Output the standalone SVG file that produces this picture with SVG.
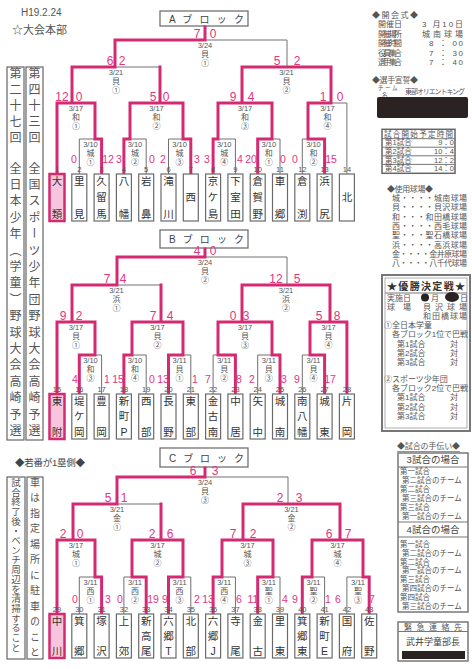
<svg xmlns="http://www.w3.org/2000/svg" width="472" height="669" viewBox="0 0 472 669">
<style>
.g{fill:none;stroke:#707070;stroke-width:1}
.r{fill:none;stroke:#d42a72;stroke-width:3;stroke-linecap:square}
.tb{fill:#fff;stroke:#6a6a6a;stroke-width:1.2}
.tw{fill:#f7c6de;stroke:#d42a72;stroke-width:2.5}
.nm{font-family:"Liberation Sans","Noto Sans CJK JP",sans-serif;font-size:10.5px;fill:#333;text-anchor:middle}
.no{font-family:"Liberation Sans",sans-serif;font-size:7.5px;fill:#555;text-anchor:middle}
.d{font-family:"Liberation Sans",sans-serif;font-size:7.5px;fill:#555;text-anchor:middle}
.v{font-family:"Liberation Sans","Noto Sans CJK JP",sans-serif;font-size:8px;fill:#555;text-anchor:middle}
.s{font-family:"Liberation Sans",sans-serif;font-size:12px;fill:#e2367f;text-anchor:middle}
.t{font-family:"Liberation Sans",sans-serif;font-size:10.5px;fill:#e2367f;text-anchor:middle}
.p{font-family:"Liberation Sans","Noto Sans CJK JP",sans-serif;font-size:8px;fill:#555}
.q{font-family:"Liberation Sans","Noto Sans CJK JP",sans-serif;font-size:7.5px;fill:#555}
.h{font-family:"Liberation Sans","Noto Sans CJK JP",sans-serif;font-size:9.5px;fill:#444}
.bx{fill:#fff;stroke:#666;stroke-width:1.2}
.vt{font-family:"Noto Sans CJK JP",sans-serif;font-size:12px;fill:#555;writing-mode:vertical-rl}
.bt{font-family:"Liberation Sans","Noto Sans CJK JP",sans-serif;font-size:10px;fill:#444}
.blk{fill:#2b2222}
</style>
<rect width="472" height="669" fill="#fff"/>

<g id="header">
<text x="21" y="16" style="font-family:'Liberation Sans',sans-serif;font-size:10px;fill:#555">H19.2.24</text>
<text x="12" y="34" style="font-family:'Liberation Sans','Noto Sans CJK JP',sans-serif;font-size:11px;fill:#555">☆大会本部</text>
</g>

<g id="title-columns">
<rect class="bx" x="7" y="67" width="17" height="373"/>
<rect class="bx" x="26" y="67" width="17" height="373"/>
<text class="vt" x="15.5" y="67" style="letter-spacing:4px">第二十七回</text>
<text class="vt" x="15.5" y="162" style="letter-spacing:4.4px">全日本少年（学童）野球大会高崎予選</text>
<text class="vt" x="34.5" y="67" style="letter-spacing:4px">第四十三回</text>
<text class="vt" x="34.5" y="162" style="letter-spacing:4.4px">全国スポーツ少年団野球大会高崎予選</text>
</g>

<g id="notes-columns">
<text class="h" x="15" y="466" textLength="70">◆若番が1塁側◆</text>
<rect class="bx" x="7" y="477" width="18" height="182"/>
<rect class="bx" x="27" y="477" width="16" height="182"/>
<text class="vt" x="16" y="477.5" style="font-size:9.5px;letter-spacing:0.2px">試合終了後・ベンチ周辺を清掃すること</text>
<text class="vt" x="35" y="477" style="font-size:10px;letter-spacing:5.5px">車は指定場所に駐車のこと</text>
</g>

<g id="block-A-title"><rect class="bx" x="160" y="11" width="88" height="15"/><text class="bt" x="169" y="22.5" textLength="75">A ブ ロ ッ ク</text></g>
<g id="block-B-title"><rect class="bx" x="160" y="230" width="88" height="18"/><text class="bt" x="169" y="243" textLength="75">B ブ ロ ッ ク</text></g>
<g id="block-C-title"><rect class="bx" x="160" y="448" width="88" height="19"/><text class="bt" x="169" y="461.5" textLength="75">C ブ ロ ッ ク</text></g>

<g id="connectors">
<path class="g" d="M205,26V40M115,67V40H287V67M72,103V67H160V103M242,103V67H331V103M57,174V103H95V139M130,139V103H183V139M218,139V103H272V139M308,139V103H346.9V174M79.3,174V139H101.6V174M123.9,174V139H146.2V174M168.5,174V139H190.8V174M213.1,174V139H235.4V174M257.7,174V139H280V174M302.3,174V139H324.6V174"/>
<path class="g" d="M205,248V257M117,285V257H287V285M72,322V285H161V322M242,322V285H330V322M57,394V322H95V355M132,355V322H183V355M218,355V322H272V355M310,355V322H346.9V394M79.3,394V355H101.6V394M123.9,394V355H146.2V394M168.5,394V355H190.8V394M213.1,394V355H235.4V394M257.7,394V355H280V394M302.3,394V355H324.6V394"/>
<path class="g" d="M205,467V477M117,504V477H288V504M73,540V504H161V540M243,540V504H340V540M57,614V540H95V577M132,577V540H183V577M222,577V540H273V577M312,577V540H363V577M79.3,614V577H101.6V614M123.9,614V577H146.2V614M168.5,614V577H190.8V614M213.1,614V577H235.4V614M257.7,614V577H280V614M302.3,614V577H324.6V614M346.9,614V577H369.2V614"/>
<path class="r" d="M205,27V40M115,67V40H205M72,103V67H115M160,103V67M242,103V67H331V103M57,173V103H95V139M130,139V103H183V139M218,139V103H272V139M308,139V103H331M101.6,173V139H95M123.9,173V139H130M190.8,173V139H183M213.1,173V139H218M257.7,173V139H272M324.6,173V139H308"/>
<path class="r" d="M205,249V257M117,285V257H205M72,322V285H117M161,322V285M242,322V285H330V322M57,393V322H95V355M132,355V322H183V355M218,355V322H272V355M310,355V322H346.9V393M79.3,393V355H95M123.9,393V355H132M168.5,393V355H183M235.4,393V355H218M280,393V355H272M324.6,393V355H310"/>
<path class="r" d="M205,468V477M117,504V477H205M73,540V504H117M161,540V504M243,540V504H340V540M57,613V540H95V577M132,577V540H183V577M222,577V540H273V577M312,577V540H363V577M101.6,613V577H95M146.2,613V577H132M168.5,613V577H183M213.1,613V577H222M257.7,613V577H273M302.3,613V577H312M369.2,613V577H363"/>
</g>

<g id="A-F"><text class="d" x="205" y="47.5">3/24</text><text class="v" x="205" y="56.5">貝</text><text class="v" x="205" y="65.5">①</text><text class="s" x="197" y="38">7</text><text class="s" x="213" y="38">0</text></g>
<g id="A-SL"><text class="d" x="116" y="74.5">3/21</text><text class="v" x="116" y="83.5">貝</text><text class="v" x="116" y="92.5">①</text><text class="s" x="110" y="65">6</text><text class="s" x="122" y="65">2</text></g>
<g id="A-SR"><text class="d" x="286.5" y="74.5">3/21</text><text class="v" x="286.5" y="83.5">貝</text><text class="v" x="286.5" y="92.5">②</text><text class="s" x="277" y="65">5</text><text class="s" x="297" y="65">2</text></g>
<g id="A-Q1"><text class="d" x="76" y="110.5">3/17</text><text class="v" x="76" y="119.5">和</text><text class="v" x="76" y="128.5">①</text><text class="s" x="62" y="101">12</text><text class="s" x="79" y="101">0</text></g>
<g id="A-Q2"><text class="d" x="156.5" y="110.5">3/17</text><text class="v" x="156.5" y="119.5">和</text><text class="v" x="156.5" y="128.5">②</text><text class="s" x="153" y="101">5</text><text class="s" x="166" y="101">0</text></g>
<g id="A-Q3"><text class="d" x="245" y="110.5">3/17</text><text class="v" x="245" y="119.5">和</text><text class="v" x="245" y="128.5">③</text><text class="s" x="233" y="101">9</text><text class="s" x="251" y="101">4</text></g>
<g id="A-Q4"><text class="d" x="327.5" y="110.5">3/17</text><text class="v" x="327.5" y="119.5">和</text><text class="v" x="327.5" y="128.5">④</text><text class="s" x="323" y="101">1</text><text class="s" x="340" y="101">0</text></g>
<g id="A-R1-1"><text class="d" x="90.5" y="146.5">3/10</text><text class="v" x="90.5" y="155.5">城</text><text class="v" x="90.5" y="164.5">①</text><text class="t" x="74" y="162.5">0</text><text class="t" x="108" y="162.5">12</text></g>
<g id="A-R1-2"><text class="d" x="135" y="146.5">3/10</text><text class="v" x="135" y="155.5">城</text><text class="v" x="135" y="164.5">②</text><text class="t" x="119" y="162.5">3</text><text class="t" x="152" y="162.5">0</text></g>
<g id="A-R1-3"><text class="d" x="179.6" y="146.5">3/10</text><text class="v" x="179.6" y="155.5">城</text><text class="v" x="179.6" y="164.5">③</text><text class="t" x="163" y="162.5">2</text><text class="t" x="197" y="162.5">3</text></g>
<g id="A-R1-4"><text class="d" x="224.2" y="146.5">3/10</text><text class="v" x="224.2" y="155.5">城</text><text class="v" x="224.2" y="164.5">④</text><text class="t" x="207" y="162.5">3</text><text class="t" x="240" y="162.5">4</text></g>
<g id="A-R1-5"><text class="d" x="268.8" y="146.5">3/10</text><text class="v" x="268.8" y="155.5">和</text><text class="v" x="268.8" y="164.5">①</text><text class="t" x="251" y="162.5">20</text><text class="t" x="283" y="162.5">0</text></g>
<g id="A-R1-6"><text class="d" x="313.5" y="146.5">3/10</text><text class="v" x="313.5" y="155.5">和</text><text class="v" x="313.5" y="164.5">②</text><text class="t" x="295" y="162.5">0</text><text class="t" x="331" y="162.5">15</text></g>

<g id="B-F"><text class="d" x="205" y="264.5">3/24</text><text class="v" x="205" y="273.5">貝</text><text class="v" x="205" y="282.5">②</text><text class="s" x="197" y="255">4</text><text class="s" x="213" y="255">0</text></g>
<g id="B-SL"><text class="d" x="116.5" y="292.5">3/21</text><text class="v" x="116.5" y="301.5">浜</text><text class="v" x="116.5" y="310.5">①</text><text class="s" x="107" y="283">7</text><text class="s" x="123" y="283">4</text></g>
<g id="B-SR"><text class="d" x="286" y="292.5">3/21</text><text class="v" x="286" y="301.5">浜</text><text class="v" x="286" y="310.5">②</text><text class="s" x="276" y="283">12</text><text class="s" x="297" y="283">5</text></g>
<g id="B-Q1"><text class="d" x="76" y="329.5">3/17</text><text class="v" x="76" y="338.5">貝</text><text class="v" x="76" y="347.5">①</text><text class="s" x="63" y="320">9</text><text class="s" x="79" y="320">2</text></g>
<g id="B-Q2"><text class="d" x="157.5" y="329.5">3/17</text><text class="v" x="157.5" y="338.5">貝</text><text class="v" x="157.5" y="347.5">②</text><text class="s" x="153" y="320">7</text><text class="s" x="170" y="320">4</text></g>
<g id="B-Q3"><text class="d" x="245" y="329.5">3/17</text><text class="v" x="245" y="338.5">貝</text><text class="v" x="245" y="347.5">③</text><text class="s" x="233" y="320">0</text><text class="s" x="246" y="320">3</text></g>
<g id="B-Q4"><text class="d" x="328.5" y="329.5">3/17</text><text class="v" x="328.5" y="338.5">貝</text><text class="v" x="328.5" y="347.5">④</text><text class="s" x="319" y="320">5</text><text class="s" x="337" y="320">8</text></g>
<g id="B-R1-1"><text class="d" x="90.5" y="362.5">3/10</text><text class="v" x="90.5" y="371.5">和</text><text class="v" x="90.5" y="380.5">③</text><text class="t" x="75" y="382.5">4</text><text class="t" x="107" y="382.5">1</text></g>
<g id="B-R1-2"><text class="d" x="135" y="362.5">3/10</text><text class="v" x="135" y="371.5">和</text><text class="v" x="135" y="380.5">④</text><text class="t" x="118" y="382.5">15</text><text class="t" x="152" y="382.5">0</text></g>
<g id="B-R1-3"><text class="d" x="179.6" y="362.5">3/11</text><text class="v" x="179.6" y="371.5">貝</text><text class="v" x="179.6" y="380.5">①</text><text class="t" x="163" y="382.5">13</text><text class="t" x="195" y="382.5">1</text></g>
<g id="B-R1-4"><text class="d" x="224.2" y="362.5">3/11</text><text class="v" x="224.2" y="371.5">貝</text><text class="v" x="224.2" y="380.5">②</text><text class="t" x="208" y="382.5">7</text><text class="t" x="239" y="382.5">8</text></g>
<g id="B-R1-5"><text class="d" x="268.8" y="362.5">3/11</text><text class="v" x="268.8" y="371.5">貝</text><text class="v" x="268.8" y="380.5">③</text><text class="t" x="252" y="382.5">2</text><text class="t" x="284" y="382.5">3</text></g>
<g id="B-R1-6"><text class="d" x="313.5" y="362.5">3/11</text><text class="v" x="313.5" y="371.5">貝</text><text class="v" x="313.5" y="380.5">④</text><text class="t" x="297" y="382.5">9</text><text class="t" x="330" y="382.5">17</text></g>

<g id="C-F"><text class="d" x="205" y="484.5">3/24</text><text class="v" x="205" y="493.5">貝</text><text class="v" x="205" y="502.5">③</text><text class="s" x="193" y="475">6</text><text class="s" x="215" y="475">3</text></g>
<g id="C-SL"><text class="d" x="117" y="511.5">3/21</text><text class="v" x="117" y="520.5">金</text><text class="v" x="117" y="529.5">①</text><text class="s" x="108" y="502">5</text><text class="s" x="124" y="502">1</text></g>
<g id="C-SR"><text class="d" x="291.5" y="511.5">3/21</text><text class="v" x="291.5" y="520.5">金</text><text class="v" x="291.5" y="529.5">②</text><text class="s" x="280" y="502">2</text><text class="s" x="299" y="502">3</text></g>
<g id="C-Q1"><text class="d" x="76" y="547.5">3/17</text><text class="v" x="76" y="556.5">城</text><text class="v" x="76" y="565.5">①</text><text class="s" x="63" y="538">2</text><text class="s" x="80" y="538">0</text></g>
<g id="C-Q2"><text class="d" x="157.5" y="547.5">3/17</text><text class="v" x="157.5" y="556.5">城</text><text class="v" x="157.5" y="565.5">②</text><text class="s" x="152" y="538">2</text><text class="s" x="170" y="538">6</text></g>
<g id="C-Q3"><text class="d" x="247.5" y="547.5">3/17</text><text class="v" x="247.5" y="556.5">城</text><text class="v" x="247.5" y="565.5">③</text><text class="s" x="233" y="538">7</text><text class="s" x="253" y="538">2</text></g>
<g id="C-Q4"><text class="d" x="337.5" y="547.5">3/17</text><text class="v" x="337.5" y="556.5">城</text><text class="v" x="337.5" y="565.5">④</text><text class="s" x="329" y="538">6</text><text class="s" x="348" y="538">7</text></g>
<g id="C-R1-1"><text class="d" x="90.5" y="584.5">3/11</text><text class="v" x="90.5" y="593.5">西</text><text class="v" x="90.5" y="602.5">①</text><text class="t" x="75" y="602.5">0</text><text class="t" x="108" y="602.5">3</text></g>
<g id="C-R1-2"><text class="d" x="135" y="584.5">3/11</text><text class="v" x="135" y="593.5">西</text><text class="v" x="135" y="602.5">②</text><text class="t" x="120" y="602.5">0</text><text class="t" x="153" y="602.5">19</text></g>
<g id="C-R1-3"><text class="d" x="179.6" y="584.5">3/11</text><text class="v" x="179.6" y="593.5">西</text><text class="v" x="179.6" y="602.5">③</text><text class="t" x="165" y="602.5">9</text><text class="t" x="197" y="602.5">2</text></g>
<g id="C-R1-4"><text class="d" x="224.2" y="584.5">3/11</text><text class="v" x="224.2" y="593.5">西</text><text class="v" x="224.2" y="602.5">④</text><text class="t" x="208" y="602.5">13</text><text class="t" x="239" y="602.5">6</text></g>
<g id="C-R1-5"><text class="d" x="268.8" y="584.5">3/11</text><text class="v" x="268.8" y="593.5">聖</text><text class="v" x="268.8" y="602.5">①</text><text class="t" x="253" y="602.5">11</text><text class="t" x="285" y="602.5">4</text></g>
<g id="C-R1-6"><text class="d" x="313.5" y="584.5">3/11</text><text class="v" x="313.5" y="593.5">聖</text><text class="v" x="313.5" y="602.5">②</text><text class="t" x="295" y="602.5">9</text><text class="t" x="328" y="602.5">1</text></g>
<g id="C-R1-7"><text class="d" x="358" y="584.5">3/11</text><text class="v" x="358" y="593.5">聖</text><text class="v" x="358" y="602.5">③</text><text class="t" x="338" y="602.5">6</text><text class="t" x="372" y="602.5">7</text></g>

<g id="team-1"><rect class="tw" x="49.5" y="174" width="15" height="47"/><text class="no" x="57" y="171.5">1</text><text class="nm" x="57" y="184.7">大</text><text class="nm" x="57" y="217.7">類</text></g>
<g id="team-2"><rect class="tb" x="71.8" y="174" width="15" height="47"/><text class="no" x="79.3" y="171.5">2</text><text class="nm" x="79.3" y="184.7">里</text><text class="nm" x="79.3" y="217.7">見</text></g>
<g id="team-3"><rect class="tb" x="94.1" y="174" width="15" height="47"/><text class="no" x="101.6" y="171.5">3</text><text class="nm" x="101.6" y="184.7">久</text><text class="nm" x="101.6" y="201.2">留</text><text class="nm" x="101.6" y="217.7">馬</text></g>
<g id="team-4"><rect class="tb" x="116.4" y="174" width="15" height="47"/><text class="no" x="123.9" y="171.5">4</text><text class="nm" x="123.9" y="184.7">八</text><text class="nm" x="123.9" y="217.7">幡</text></g>
<g id="team-5"><rect class="tb" x="138.7" y="174" width="15" height="47"/><text class="no" x="146.2" y="171.5">5</text><text class="nm" x="146.2" y="184.7">岩</text><text class="nm" x="146.2" y="217.7">鼻</text></g>
<g id="team-6"><rect class="tb" x="161" y="174" width="15" height="47"/><text class="no" x="168.5" y="171.5">6</text><text class="nm" x="168.5" y="184.7">滝</text><text class="nm" x="168.5" y="217.7">川</text></g>
<g id="team-7"><rect class="tb" x="183.3" y="174" width="15" height="47"/><text class="no" x="190.8" y="171.5">7</text><text class="nm" x="190.8" y="201.2">西</text></g>
<g id="team-8"><rect class="tb" x="205.6" y="174" width="15" height="47"/><text class="no" x="213.1" y="171.5">8</text><text class="nm" x="213.1" y="184.7">京</text><text class="nm" x="213.1" y="201.2">ケ</text><text class="nm" x="213.1" y="217.7">島</text></g>
<g id="team-9"><rect class="tb" x="227.9" y="174" width="15" height="47"/><text class="no" x="235.4" y="171.5">9</text><text class="nm" x="235.4" y="184.7">下</text><text class="nm" x="235.4" y="201.2">室</text><text class="nm" x="235.4" y="217.7">田</text></g>
<g id="team-10"><rect class="tb" x="250.2" y="174" width="15" height="47"/><text class="no" x="257.7" y="171.5">10</text><text class="nm" x="257.7" y="184.7">倉</text><text class="nm" x="257.7" y="201.2">賀</text><text class="nm" x="257.7" y="217.7">野</text></g>
<g id="team-11"><rect class="tb" x="272.5" y="174" width="15" height="47"/><text class="no" x="280" y="171.5">11</text><text class="nm" x="280" y="184.7">車</text><text class="nm" x="280" y="217.7">郷</text></g>
<g id="team-12"><rect class="tb" x="294.8" y="174" width="15" height="47"/><text class="no" x="302.3" y="171.5">12</text><text class="nm" x="302.3" y="184.7">倉</text><text class="nm" x="302.3" y="217.7">渕</text></g>
<g id="team-13"><rect class="tb" x="317.1" y="174" width="15" height="47"/><text class="no" x="324.6" y="171.5">13</text><text class="nm" x="324.6" y="184.7">浜</text><text class="nm" x="324.6" y="217.7">尻</text></g>
<g id="team-14"><rect class="tb" x="339.4" y="174" width="15" height="47"/><text class="no" x="346.9" y="171.5">14</text><text class="nm" x="346.9" y="201.2">北</text></g>

<g id="team-15"><rect class="tw" x="49.5" y="394" width="15" height="45"/><text class="no" x="57" y="391.5">15</text><text class="nm" x="57" y="404.7">東</text><text class="nm" x="57" y="435.7">附</text></g>
<g id="team-16"><rect class="tb" x="71.8" y="394" width="15" height="45"/><text class="no" x="79.3" y="391.5">16</text><text class="nm" x="79.3" y="404.7">堤</text><text class="nm" x="79.3" y="420.2">ケ</text><text class="nm" x="79.3" y="435.7">岡</text></g>
<g id="team-17"><rect class="tb" x="94.1" y="394" width="15" height="45"/><text class="no" x="101.6" y="391.5">17</text><text class="nm" x="101.6" y="404.7">豊</text><text class="nm" x="101.6" y="435.7">岡</text></g>
<g id="team-18"><rect class="tb" x="116.4" y="394" width="15" height="45"/><text class="no" x="123.9" y="391.5">18</text><text class="nm" x="123.9" y="404.7">新</text><text class="nm" x="123.9" y="420.2">町</text><text class="nm" x="123.9" y="435.7">P</text></g>
<g id="team-19"><rect class="tb" x="138.7" y="394" width="15" height="45"/><text class="no" x="146.2" y="391.5">19</text><text class="nm" x="146.2" y="404.7">西</text><text class="nm" x="146.2" y="435.7">部</text></g>
<g id="team-20"><rect class="tb" x="161" y="394" width="15" height="45"/><text class="no" x="168.5" y="391.5">20</text><text class="nm" x="168.5" y="404.7">長</text><text class="nm" x="168.5" y="435.7">野</text></g>
<g id="team-21"><rect class="tb" x="183.3" y="394" width="15" height="45"/><text class="no" x="190.8" y="391.5">21</text><text class="nm" x="190.8" y="404.7">東</text><text class="nm" x="190.8" y="435.7">部</text></g>
<g id="team-22"><rect class="tb" x="205.6" y="394" width="15" height="45"/><text class="no" x="213.1" y="391.5">22</text><text class="nm" x="213.1" y="404.7">金</text><text class="nm" x="213.1" y="420.2">古</text><text class="nm" x="213.1" y="435.7">南</text></g>
<g id="team-23"><rect class="tb" x="227.9" y="394" width="15" height="45"/><text class="no" x="235.4" y="391.5">23</text><text class="nm" x="235.4" y="404.7">中</text><text class="nm" x="235.4" y="435.7">居</text></g>
<g id="team-24"><rect class="tb" x="250.2" y="394" width="15" height="45"/><text class="no" x="257.7" y="391.5">24</text><text class="nm" x="257.7" y="404.7">矢</text><text class="nm" x="257.7" y="435.7">中</text></g>
<g id="team-25"><rect class="tb" x="272.5" y="394" width="15" height="45"/><text class="no" x="280" y="391.5">25</text><text class="nm" x="280" y="404.7">城</text><text class="nm" x="280" y="435.7">南</text></g>
<g id="team-26"><rect class="tb" x="294.8" y="394" width="15" height="45"/><text class="no" x="302.3" y="391.5">26</text><text class="nm" x="302.3" y="404.7">南</text><text class="nm" x="302.3" y="420.2">八</text><text class="nm" x="302.3" y="435.7">幡</text></g>
<g id="team-27"><rect class="tb" x="317.1" y="394" width="15" height="45"/><text class="no" x="324.6" y="391.5">27</text><text class="nm" x="324.6" y="404.7">城</text><text class="nm" x="324.6" y="435.7">東</text></g>
<g id="team-28"><rect class="tb" x="339.4" y="394" width="15" height="45"/><text class="no" x="346.9" y="391.5">28</text><text class="nm" x="346.9" y="404.7">片</text><text class="nm" x="346.9" y="435.7">岡</text></g>

<g id="team-29"><rect class="tw" x="49.5" y="614" width="15" height="44"/><text class="no" x="57" y="611.5">29</text><text class="nm" x="57" y="624.7">中</text><text class="nm" x="57" y="654.7">川</text></g>
<g id="team-30"><rect class="tb" x="71.8" y="614" width="15" height="44"/><text class="no" x="79.3" y="611.5">30</text><text class="nm" x="79.3" y="624.7">箕</text><text class="nm" x="79.3" y="654.7">郷</text></g>
<g id="team-31"><rect class="tb" x="94.1" y="614" width="15" height="44"/><text class="no" x="101.6" y="611.5">31</text><text class="nm" x="101.6" y="624.7">塚</text><text class="nm" x="101.6" y="654.7">沢</text></g>
<g id="team-32"><rect class="tb" x="116.4" y="614" width="15" height="44"/><text class="no" x="123.9" y="611.5">32</text><text class="nm" x="123.9" y="624.7">上</text><text class="nm" x="123.9" y="654.7">郊</text></g>
<g id="team-33"><rect class="tb" x="138.7" y="614" width="15" height="44"/><text class="no" x="146.2" y="611.5">33</text><text class="nm" x="146.2" y="624.7">新</text><text class="nm" x="146.2" y="639.7">高</text><text class="nm" x="146.2" y="654.7">尾</text></g>
<g id="team-34"><rect class="tb" x="161" y="614" width="15" height="44"/><text class="no" x="168.5" y="611.5">34</text><text class="nm" x="168.5" y="624.7">六</text><text class="nm" x="168.5" y="639.7">郷</text><text class="nm" x="168.5" y="654.7">T</text></g>
<g id="team-35"><rect class="tb" x="183.3" y="614" width="15" height="44"/><text class="no" x="190.8" y="611.5">35</text><text class="nm" x="190.8" y="624.7">北</text><text class="nm" x="190.8" y="654.7">部</text></g>
<g id="team-36"><rect class="tb" x="205.6" y="614" width="15" height="44"/><text class="no" x="213.1" y="611.5">36</text><text class="nm" x="213.1" y="624.7">六</text><text class="nm" x="213.1" y="639.7">郷</text><text class="nm" x="213.1" y="654.7">J</text></g>
<g id="team-37"><rect class="tb" x="227.9" y="614" width="15" height="44"/><text class="no" x="235.4" y="611.5">37</text><text class="nm" x="235.4" y="624.7">寺</text><text class="nm" x="235.4" y="654.7">尾</text></g>
<g id="team-38"><rect class="tb" x="250.2" y="614" width="15" height="44"/><text class="no" x="257.7" y="611.5">38</text><text class="nm" x="257.7" y="624.7">金</text><text class="nm" x="257.7" y="654.7">古</text></g>
<g id="team-39"><rect class="tb" x="272.5" y="614" width="15" height="44"/><text class="no" x="280" y="611.5">39</text><text class="nm" x="280" y="624.7">里</text><text class="nm" x="280" y="654.7">東</text></g>
<g id="team-40"><rect class="tb" x="294.8" y="614" width="15" height="44"/><text class="no" x="302.3" y="611.5">40</text><text class="nm" x="302.3" y="624.7">箕</text><text class="nm" x="302.3" y="639.7">郷</text><text class="nm" x="302.3" y="654.7">東</text></g>
<g id="team-41"><rect class="tb" x="317.1" y="614" width="15" height="44"/><text class="no" x="324.6" y="611.5">41</text><text class="nm" x="324.6" y="624.7">新</text><text class="nm" x="324.6" y="639.7">町</text><text class="nm" x="324.6" y="654.7">E</text></g>
<g id="team-42"><rect class="tb" x="339.4" y="614" width="15" height="44"/><text class="no" x="346.9" y="611.5">42</text><text class="nm" x="346.9" y="624.7">国</text><text class="nm" x="346.9" y="654.7">府</text></g>
<g id="team-43"><rect class="tb" x="361.7" y="614" width="15" height="44"/><text class="no" x="369.2" y="611.5">43</text><text class="nm" x="369.2" y="624.7">佐</text><text class="nm" x="369.2" y="654.7">野</text></g>

<g id="opening-ceremony">
<text class="p" x="372" y="17.5" textLength="46">◆開会式◆</text>
<text class="p" x="378" y="27" textLength="24">開 催 日</text><text class="p" x="422" y="27" textLength="41">3 月10日</text>
<text class="p" x="378" y="36.5" textLength="24">開催場所</text><text class="p" x="422" y="36.5" textLength="41">城 南 球 場</text>
<text class="p" x="378" y="46" textLength="24">開催時間</text><text class="p" x="429" y="46" textLength="34">8 ： 00</text>
<text class="p" x="378" y="55.5" textLength="24">役員集合</text><text class="p" x="429" y="55.5" textLength="34">7 ： 30</text>
<text class="p" x="378" y="65" textLength="24">選手集合</text><text class="p" x="429" y="65" textLength="34">7 ： 40</text>
</g>

<g id="oath">
<text class="p" x="372" y="82.5" textLength="46">◆選手宣誓◆</text>
<text class="p" x="378" y="90" style="font-size:5.5px">チ ー ム</text>
<text class="p" x="382" y="96.5" style="font-size:5.5px">名</text>
<text class="p" x="405" y="94" textLength="60" style="font-size:7px">東部オリエントキング</text>
<rect class="blk" x="377" y="97" width="91" height="21" rx="2"/>
</g>

<g id="start-times">
<rect x="382" y="129.3" width="73" height="44" fill="#fff" stroke="#666" stroke-width="1.5"/>
<path d="M382,138.7H455M382,147.2H455M382,155.8H455M382,164.4H455" stroke="#777" stroke-width="1" fill="none"/>
<text class="q" x="384" y="136.5" textLength="69">試合開始予定時間</text>
<text class="q" x="385" y="145.3">第1試合</text><text class="q" x="454" y="145.3" text-anchor="end">9：0</text>
<text class="q" x="385" y="153.9">第2試合</text><text class="q" x="454" y="153.9" text-anchor="end">10：4</text>
<text class="q" x="385" y="162.5">第3試合</text><text class="q" x="454" y="162.5" text-anchor="end">12：2</text>
<text class="q" x="385" y="171.1">第4試合</text><text class="q" x="454" y="171.1" text-anchor="end">14：0</text>
</g>

<g id="venues">
<text class="p" x="387" y="191.5" textLength="46">◆使用球場◆</text>
<text class="p" x="392" y="201" textLength="75">城・・・・城南球場</text>
<text class="p" x="392" y="210.3" textLength="75">貝・・・・貝沢球場</text>
<text class="p" x="392" y="219.6" textLength="75">和・・・和田橋球場</text>
<text class="p" x="392" y="228.9" textLength="75">西・・・・西毛球場</text>
<text class="p" x="392" y="238.2" textLength="75">聖・・・聖石橋球場</text>
<text class="p" x="392" y="247.5" textLength="75">浜・・・・高浜球場</text>
<text class="p" x="392" y="256.8" textLength="75">金・・・・金井原球場</text>
<text class="p" x="392" y="266.1" textLength="75">八・・・・八千代球場</text>
</g>

<g id="final-games">
<rect x="382" y="275" width="88" height="156" fill="#fff" stroke="#777" stroke-width="2"/>
<rect x="385" y="278" width="82" height="150" fill="none" stroke="#999" stroke-width="0.8"/>
<path d="M385,293H467" stroke="#777" stroke-width="1"/>
<text x="426" y="290" text-anchor="middle" textLength="78" style="font-family:'Liberation Sans','Noto Sans CJK JP',sans-serif;font-size:10px;font-weight:bold;fill:#333">★ 優 勝 決 定 戦 ★</text>
<text class="p" x="387" y="300.5" textLength="24">実 施 日</text>
<circle class="blk" cx="425" cy="297.5" r="4"/><text class="p" x="431" y="300.5">月</text>
<ellipse class="blk" cx="452" cy="297" rx="7" ry="5"/><text class="p" x="460" y="300.5">日</text>
<text class="p" x="387" y="309.7" textLength="24">球 場</text><text class="p" x="423" y="309.7" textLength="44">貝 沢 球 場</text>
<text class="p" x="423" y="318.9" textLength="44">和田橋球場</text>
<text class="p" x="384" y="328.1">①全日本学童</text>
<text class="p" x="392" y="337.3" textLength="76">各ブロック1位で巴戦</text>
<text class="p" x="397" y="346.5">第1試合</text><text class="p" x="450" y="346.5">対</text>
<text class="p" x="397" y="355.7">第2試合</text><text class="p" x="450" y="355.7">対</text>
<text class="p" x="397" y="364.9">第3試合</text><text class="p" x="450" y="364.9">対</text>
<text class="p" x="384" y="382">②スポーツ少年団</text>
<text class="p" x="392" y="391.2" textLength="76">各ブロック2位で巴戦</text>
<text class="p" x="397" y="400.4">第1試合</text><text class="p" x="450" y="400.4">対</text>
<text class="p" x="397" y="409.6">第2試合</text><text class="p" x="450" y="409.6">対</text>
<text class="p" x="397" y="418.8">第3試合</text><text class="p" x="450" y="418.8">対</text>
</g>

<g id="game-help">
<text class="p" x="397" y="449" textLength="63">◆試合の手伝い◆</text>
<path d="M397,451.5H460" stroke="#777" stroke-width="0.8"/>
<rect x="398" y="453" width="70" height="159" fill="#fff" stroke="#777" stroke-width="1.5"/>
<path d="M398,467H468M398,522H468M398,537H468" stroke="#777" stroke-width="1.2"/>
<text class="h" x="433" y="463" text-anchor="middle">3試合の場合</text>
<text class="q" x="400" y="474">第一試合</text>
<text class="q" x="402" y="483">第二試合のチーム</text>
<text class="q" x="400" y="492">第二試合</text>
<text class="q" x="402" y="501">第三試合のチーム</text>
<text class="q" x="400" y="510">第三試合</text>
<text class="q" x="402" y="519">第一試合のチーム</text>
<text class="h" x="433" y="533" text-anchor="middle">4試合の場合</text>
<text class="q" x="400" y="547">第一試合</text>
<text class="q" x="402" y="555.8">第二試合のチーム</text>
<text class="q" x="400" y="564.6">第二試合</text>
<text class="q" x="402" y="573.4">第一試合のチーム</text>
<text class="q" x="400" y="582.2">第三試合</text>
<text class="q" x="402" y="591">第四試合のチーム</text>
<text class="q" x="400" y="599.8">第四試合</text>
<text class="q" x="402" y="608.6">第三試合のチーム</text>
</g>

<g id="emergency">
<rect x="398" y="622" width="70" height="39" fill="#fff" stroke="#777" stroke-width="1.5"/>
<path d="M398,631.5H468" stroke="#777" stroke-width="1"/>
<text class="p" x="404" y="629.7" textLength="58">緊 急 連 絡 先</text>
<text x="433" y="644.5" text-anchor="middle" style="font-family:'Liberation Sans','Noto Sans CJK JP',sans-serif;font-size:9px;fill:#444">武井学童部長</text>
<rect class="blk" x="402" y="651" width="63" height="8"/>
</g>
</svg>
